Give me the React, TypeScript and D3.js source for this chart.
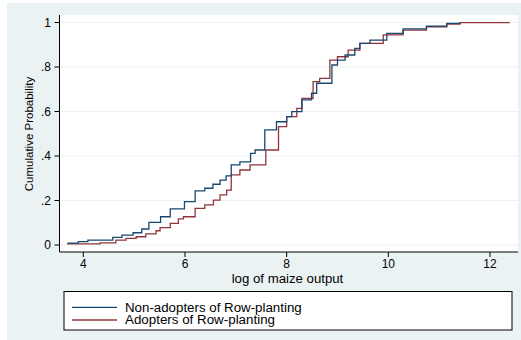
import React from "react";
import * as d3 from "d3";

const nonAdoptX = [3.685, 3.9, 4.09, 4.58, 4.76, 4.98, 5.15, 5.29, 5.52, 5.71, 5.99, 6.2, 6.39, 6.55, 6.69, 6.81, 6.91, 7.08, 7.29, 7.38, 7.57, 7.8, 8.0, 8.1, 8.3, 8.49, 8.59, 8.89, 9.0, 9.15, 9.34, 9.44, 9.64, 9.97, 10.29, 10.75, 11.15, 11.41];
const nonAdoptP = [0.008, 0.015, 0.022, 0.034, 0.044, 0.055, 0.072, 0.102, 0.127, 0.162, 0.195, 0.243, 0.255, 0.273, 0.292, 0.311, 0.36, 0.374, 0.412, 0.427, 0.517, 0.554, 0.577, 0.599, 0.652, 0.682, 0.727, 0.809, 0.831, 0.854, 0.884, 0.906, 0.921, 0.951, 0.971, 0.984, 0.996, 1.0];

const adoptX = [3.68, 4.33, 4.64, 4.84, 5.04, 5.23, 5.43, 5.51, 5.71, 5.87, 5.97, 6.2, 6.39, 6.56, 6.69, 6.82, 6.91, 7.08, 7.28, 7.59, 7.84, 8.0, 8.2, 8.3, 8.52, 8.65, 8.85, 9.0, 9.21, 9.44, 9.9, 10.29, 10.75, 11.15, 11.41, 12.38];
const adoptP = [0.005, 0.01, 0.022, 0.03, 0.037, 0.05, 0.064, 0.078, 0.097, 0.117, 0.127, 0.165, 0.18, 0.202, 0.225, 0.247, 0.315, 0.337, 0.36, 0.427, 0.532, 0.577, 0.614, 0.659, 0.734, 0.749, 0.831, 0.846, 0.876, 0.906, 0.944, 0.966, 0.981, 0.993, 0.999, 1.0];

const xTicks = [4, 6, 8, 10, 12];
const yTicks = [0, 0.2, 0.4, 0.6, 0.8, 1];
const yTickLabels = ["0", ".2", ".4", ".6", ".8", "1"];
const seriesNames = ["Non-adopters of Row-planting", "Adopters of Row-planting"];
const seriesColors = ["#1a476f", "#90353b"];

export default function App() {
  const W = 521, H = 340;
  const plotL = 59.5, plotR = 518, plotT = 15, plotB = 252;
  const x = d3.scaleLinear().domain([4, 12]).range([83.3, 490]);
  const y = d3.scaleLinear().domain([0, 1]).range([245, 22.5]);
  const line = d3.line<[number, number]>().x(d => x(d[0])).y(d => y(d[1])).curve(d3.curveStepAfter);
  const s1 = nonAdoptX.map((v, i) => [v, nonAdoptP[i]] as [number, number]);
  const s2 = adoptX.map((v, i) => [v, adoptP[i]] as [number, number]);
  const font = "'Liberation Sans', Arial, sans-serif";
  const legendWidths = [176.7, 150];
  return (
    <svg width={W} height={H} style={{ position: "absolute", left: 0, top: 0 }} fontFamily={font}>
      <rect x={0} y={0} width={W} height={H} fill="#ffffff" />
      <rect x={7} y={3} width={W - 7} height={H - 3} fill="#eaf2f3" />
      <rect x={plotL} y={plotT} width={plotR - plotL} height={plotB - plotT} fill="#ffffff" />
      {yTicks.map(t => (
        <line key={"g" + t} x1={plotL} x2={plotR} y1={y(t)} y2={y(t)} stroke="#eaf2f3" strokeWidth={1.2} />
      ))}
      <path d={line(s2) || ""} fill="none" stroke={seriesColors[1]} strokeWidth={1.3} />
      <path d={line(s1) || ""} fill="none" stroke={seriesColors[0]} strokeWidth={1.3} />
      <line x1={plotL} x2={plotL} y1={plotT} y2={plotB} stroke="#000" strokeWidth={1} />
      <line x1={plotL} x2={plotR} y1={plotB} y2={plotB} stroke="#000" strokeWidth={1} />
      {yTicks.map((t, i) => (
        <g key={"y" + t}>
          <line x1={plotL - 5} x2={plotL} y1={y(t)} y2={y(t)} stroke="#000" />
          <text x={51} y={y(t) + 4} textAnchor="end" fontSize={12}>{yTickLabels[i]}</text>
        </g>
      ))}
      {xTicks.map(t => (
        <g key={"x" + t}>
          <line x1={x(t)} x2={x(t)} y1={plotB} y2={plotB + 5} stroke="#000" />
          <text x={x(t)} y={267.5} textAnchor="middle" fontSize={12}>{t}</text>
        </g>
      ))}
      <text x={231.7} y={282.5} fontSize={12} textLength={111.6} lengthAdjust="spacingAndGlyphs">log of maize output</text>
      <text transform={`translate(32.5,134) rotate(-90)`} textAnchor="middle" fontSize={11.5}>Cumulative Probability</text>
      <rect x={64} y={291.5} width={448} height={38.5} fill="#ffffff" stroke="#000" strokeWidth={1} />
      {seriesNames.map((n, i) => (
        <g key={n}>
          <line x1={72} x2={117} y1={307.3 + i * 12.7} y2={307.3 + i * 12.7} stroke={seriesColors[i]} strokeWidth={1.3} />
          <text x={125} y={311.5 + i * 12.7} fontSize={12} textLength={legendWidths[i]} lengthAdjust="spacingAndGlyphs">{n}</text>
        </g>
      ))}
    </svg>
  );
}
